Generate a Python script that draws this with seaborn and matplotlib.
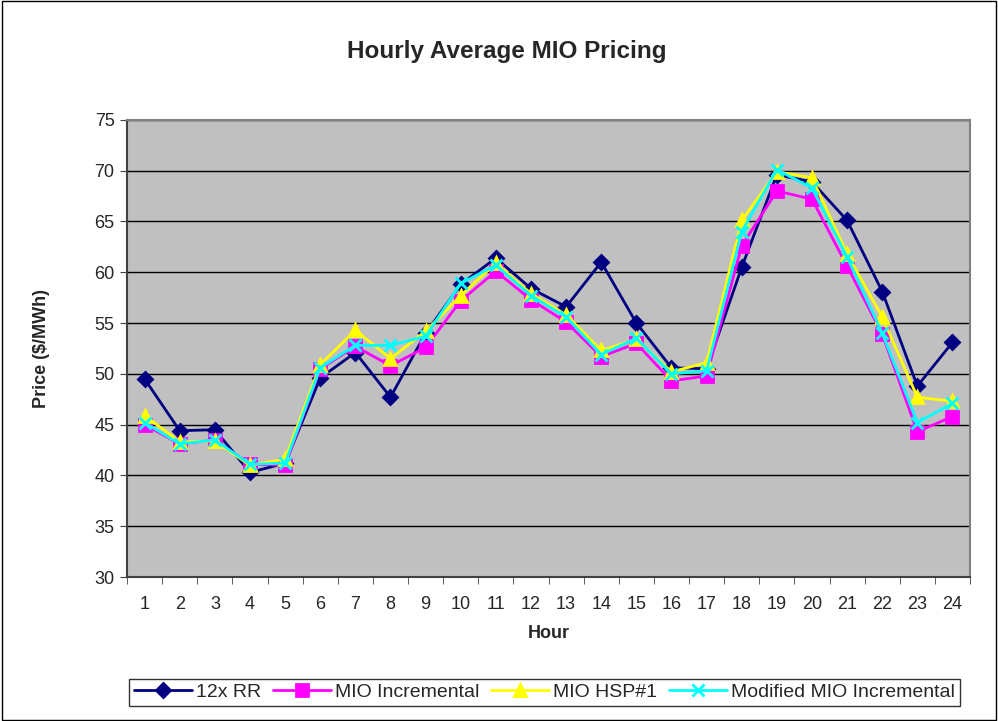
import matplotlib.pyplot as plt
import seaborn as sns
from matplotlib.patches import Rectangle

# -----------------------------
# Data
# -----------------------------
hours = list(range(1, 25))
rr_12x = [49.5, 44.4, 44.5, 40.3, 41.2, 49.6, 52.1, 47.7, 54.0, 58.8, 61.4, 58.4,
          56.6, 61.0, 55.0, 50.6, 50.5, 60.5, 69.6, 68.9, 65.1, 58.1, 48.8, 53.1]
mio_incr = [45.0, 43.1, 43.5, 41.1, 41.0, 50.5, 52.7, 50.8, 52.6, 57.2, 60.1, 57.3,
            55.1, 51.7, 53.0, 49.3, 49.8, 62.6, 68.0, 67.2, 60.6, 53.9, 44.3, 45.8]
mio_hsp = [45.9, 43.3, 43.4, 41.0, 41.6, 50.9, 54.3, 51.5, 54.2, 57.7, 60.9, 57.9,
           55.8, 52.3, 53.4, 50.2, 51.1, 65.1, 69.9, 69.3, 61.8, 55.6, 47.7, 47.3]
mod_incr = [45.2, 43.1, 43.5, 41.1, 41.2, 50.6, 52.8, 52.8, 53.7, 58.9, 60.7, 57.7,
            55.6, 51.9, 53.5, 50.0, 50.3, 64.0, 70.1, 68.3, 61.5, 54.0, 45.2, 47.1]

series_names = ["12x RR", "MIO Incremental", "MIO HSP#1", "Modified MIO Incremental"]
series_vals = [rr_12x, mio_incr, mio_hsp, mod_incr]
colors = ["#000080", "#FF00FF", "#FFFF00", "#00FFFF"]
markers = ["D", "s", "^", "x"]
msizes = [7, 8, 9, 9]

# -----------------------------
# Plot
# -----------------------------
sns.set_style("white")
plt.rcParams["font.family"] = ["Liberation Sans", "DejaVu Sans"]

fig = plt.figure(figsize=(9.98, 7.21), dpi=100)
ax = fig.add_axes([0.1273, 0.1997, 0.8447, 0.634])
ax.set_facecolor("#C0C0C0")

for name, vals, c, m, ms in zip(series_names, series_vals, colors, markers, msizes):
    sns.lineplot(x=hours, y=vals, color=c, marker=m, markersize=ms,
                 markeredgecolor=c, markeredgewidth=2, linewidth=2,
                 label=name, ax=ax)

ax.set_xlim(0.5, 24.5)
ax.set_ylim(30, 75)
ax.set_xticks(hours)
ax.set_xticks([h - 0.5 for h in hours] + [24.5], minor=True)
ax.set_yticks(range(30, 80, 5))
ax.yaxis.grid(True, color="black", linewidth=1)
ax.set_axisbelow(True)
ax.tick_params(axis="x", which="major", labelsize=13, length=0, pad=14, bottom=True)
ax.tick_params(axis="x", which="minor", length=5, color="#404040", bottom=True)
ax.tick_params(axis="y", labelsize=13, length=5, color="#404040", pad=4, left=True)
for s in ax.spines.values():
    s.set_color("#808080")
    s.set_linewidth(1.5)
ax.spines["left"].set_color("#404040")
ax.spines["bottom"].set_color("#404040")

ax.set_xlabel("Hour", fontsize=13, fontweight="bold", labelpad=8)
ax.set_ylabel("Price ($/MWh)", fontsize=13, fontweight="bold", labelpad=32)
fig.text(0.508, 0.928, "Hourly Average MIO Pricing", fontsize=17.5, fontweight="bold",
         ha="center", va="center")

handles, labels = ax.get_legend_handles_labels()
ax.legend(handles, labels, loc="center", bbox_to_anchor=(0.495, -0.252),
          ncol=4, fontsize=14, frameon=True, fancybox=False, edgecolor="black",
          borderpad=0.25, handlelength=3.0, handletextpad=0.2, columnspacing=0.6)

fig.patches.append(Rectangle((0.002, 0.002), 0.996, 0.996, transform=fig.transFigure,
                             fill=False, edgecolor="black", linewidth=1))

plt.savefig("out.png", dpi=100)
plt.close()
